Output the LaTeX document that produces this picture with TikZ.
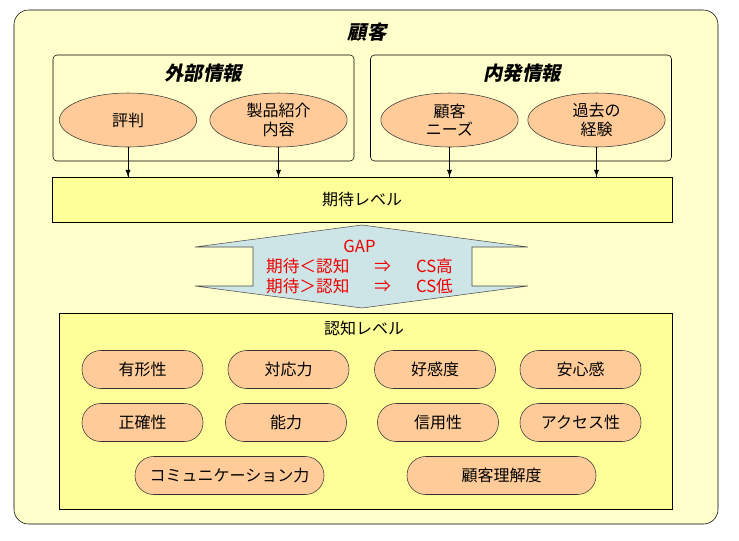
\documentclass[tikz,border=0pt]{standalone}
\usepackage{fontspec}
\setmainfont{Noto Sans CJK JP}
\newfontfamily\titlefont[FakeSlant=0.2]{Noto Sans CJK JP}
\usepackage{xcolor}
\usepackage{tikz}
\usetikzlibrary{shapes.geometric}
\usetikzlibrary{arrows,decorations.markings}
\definecolor{outerColor}{HTML}{FFFFCC}
\definecolor{levelColor}{HTML}{FFFF99}
\definecolor{nodeColor}{HTML}{FFCC99}
\definecolor{gapColor}{HTML}{CDE5E6}
\definecolor{gapTextColor}{HTML}{F00000}
\tikzstyle{infobox}=[rectangle, rounded corners=3pt, minimum width=225.75pt, minimum height=79.5pt, draw=black, fill=outerColor]
\tikzstyle{factor}=[ellipse, minimum width=103pt, minimum height=40.5pt, inner sep=0pt, align=center, draw=black!80, fill=nodeColor, font=\fontsize{12}{14}\selectfont]
\tikzstyle{pill}=[rectangle, rounded corners=14pt, minimum width=90.75pt, minimum height=28.5pt, draw=black!80, fill=nodeColor, font=\fontsize{12}{14}\selectfont]
\tikzstyle{arrow} = [decoration={markings,mark=at position 1 with
	{\arrow[scale=1.3]{latex}}},postaction={decorate}]
\tikzset{
	title/.style={
		font=\titlefont\bfseries\fontsize{14.5}{16}\selectfont
	},
	levelbox/.style={
		rectangle,
		draw=black,
		fill=levelColor
	},
	label/.style={
		font=\fontsize{12}{14}\selectfont
	},
	gapshape/.style={
		draw=black!70,
		fill=gapColor
	},
	gaptext/.style={
		align=center,
		text=gapTextColor,
		font=\fontsize{12.5}{15}\selectfont
	}
}

\begin{document}
\begin{tikzpicture}[x=0.75pt, y=-0.75pt]
	\useasboundingbox (0,0) rectangle (739,540);
	
	\node(Customer)[rectangle, rounded corners=11pt, minimum width=528pt, minimum height=385.5pt, draw=black, fill=outerColor] at (366,267) {};
	\node(CustomerTitle)[title] at (367,32) {顧客};
	
	% information sources
	\node(External)[infobox] at (203.5,108) {};
	\node(ExternalTitle)[title] at (203,73) {外部情報};
	\node(Internal)[infobox] at (521,108) {};
	\node(InternalTitle)[title] at (522,73) {内発情報};
	
	\node(Reputation)[factor] at (128,120) {評判};
	\node(Product)[factor] at (278.5,120) {製品紹介\\内容};
	\node(Needs)[factor] at (449.5,120) {顧客\\ニーズ};
	\node(Experience)[factor] at (596.5,120) {過去の\\経験};
	
	\node(ExpectLevel)[levelbox, minimum width=465pt, minimum height=33.75pt, label] at (362,199.5) {期待レベル};
	
	\draw [arrow] (Reputation.south) -- (Reputation.south |- ExpectLevel.north);
	\draw [arrow] (Product.south) -- (Product.south |- ExpectLevel.north);
	\draw [arrow] (Needs.south) -- (Needs.south |- ExpectLevel.north);
	\draw [arrow] (Experience.south) -- (Experience.south |- ExpectLevel.north);
	
	% gap
	\draw[gapshape] (195,247) -- (362,225) -- (528,247) -- (472,247) -- (472,286) -- (528,286)
	-- (362,308) -- (195,286) -- (253,286) -- (253,247) -- cycle;
	\node(Gap)[gaptext] at (359.5,266.5) {GAP\\期待＜認知\hspace{1.5em}⇒\hspace{1.5em}CS高\\期待＞認知\hspace{1.5em}⇒\hspace{1.5em}CS低};
	
	% perception
	\node(PerceiveLevel)[levelbox, minimum width=459.75pt, minimum height=147pt] at (365.5,411) {};
	\node(PerceiveTitle)[label] at (364,328) {認知レベル};
	
	\node(Tangible)[pill] at (142.5,369.5) {有形性};
	\node(Response)[pill] at (288.5,369.5) {対応力};
	\node(Goodwill)[pill] at (435,369.5) {好感度};
	\node(Security)[pill] at (580.5,369.5) {安心感};
	
	\node(Accuracy)[pill] at (142.5,422.5) {正確性};
	\node(Competence)[pill] at (286,422.5) {能力};
	\node(Credibility)[pill] at (438,422.5) {信用性};
	\node(Access)[pill] at (580.5,422.5) {アクセス性};
	
	\node(Communication)[pill, minimum width=141.75pt] at (229.5,475.5) {コミュニケーション力};
	\node(Understanding)[pill, minimum width=141.75pt] at (501.5,475.5) {顧客理解度};
\end{tikzpicture}
\end{document}
